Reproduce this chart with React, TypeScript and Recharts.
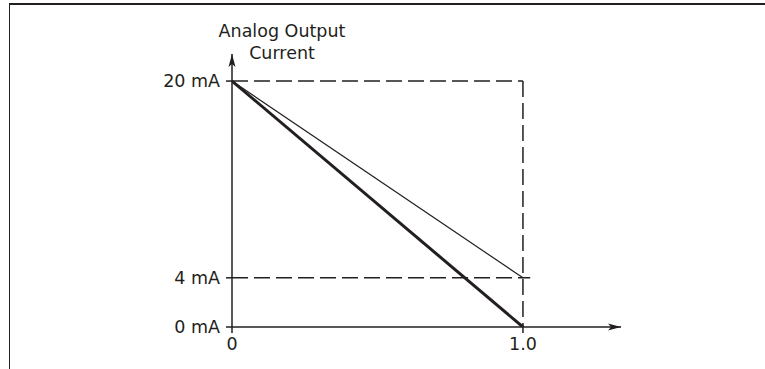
import { LineChart, Line, XAxis, YAxis, ReferenceLine, ReferenceDot } from 'recharts'

// signal range (x = reference 0..1.0, y = output current in mA)
const xTicks = [0, 1]
const xTickLabels = ['0', '1.0']
const yTicks = [0, 4, 20]
const yTickLabels = ['0 mA', '4 mA', '20 mA']

const thickLine = [
  { x: 0, y: 20 },
  { x: 1, y: 0 },
]
const thinLine = [
  { x: 0, y: 20 },
  { x: 1, y: 4 },
]

const xMax = 1.337
const yMax = 22.2

const ink = '#231f20'
const font = 'DejaVu Sans'

const ArrowUp = (props: any) => {
  const { cx, cy } = props
  return (
    <path
      d={`M${cx},${cy} L${cx + 3.5},${cy + 13} L${cx},${cy + 10} L${cx - 3.5},${cy + 13} Z`}
      fill={ink}
    />
  )
}

const ArrowRight = (props: any) => {
  const { cx, cy } = props
  return (
    <path
      d={`M${cx},${cy} L${cx - 13},${cy - 3.5} L${cx - 10},${cy} L${cx - 13},${cy + 3.5} Z`}
      fill={ink}
    />
  )
}

export default function App() {
  const tickStyle = { fontSize: 17.5, fill: ink, fontFamily: font }
  return (
    <div style={{ position: 'absolute', left: 0, top: 0, width: 765, height: 369, background: '#fff' }}>
      {/* frame */}
      <div
        style={{
          position: 'absolute',
          left: 9,
          top: 3,
          width: 756,
          height: 366,
          borderTop: `2px solid ${ink}`,
          borderLeft: `1.5px solid ${ink}`,
          boxSizing: 'border-box',
        }}
      />
      <div
        style={{
          position: 'absolute',
          left: 182,
          top: 21,
          width: 200,
          textAlign: 'center',
          fontFamily: font,
          fontSize: 17.5,
          lineHeight: '21.5px',
          color: ink,
        }}
      >
        Analog Output
        <br />
        Current
      </div>
      <LineChart
        width={765}
        height={369}
        margin={{ top: 54, right: 144, bottom: 12, left: 172 }}
        style={{ position: 'absolute', left: 0, top: 0 }}
      >
        <XAxis
          dataKey="x"
          type="number"
          domain={[0, xMax]}
          ticks={xTicks}
          tickFormatter={(v) => xTickLabels[xTicks.indexOf(v)]}
          height={30}
          tickSize={6}
          tickMargin={5}
          axisLine={{ stroke: ink, strokeWidth: 1.5 }}
          tickLine={{ stroke: ink, strokeWidth: 1.5 }}
          tick={tickStyle}
          allowDataOverflow
        />
        <YAxis
          dataKey="y"
          type="number"
          domain={[0, yMax]}
          ticks={yTicks}
          tickFormatter={(v) => yTickLabels[yTicks.indexOf(v)]}
          width={60}
          tickSize={6}
          tickMargin={6}
          axisLine={{ stroke: ink, strokeWidth: 1.5 }}
          tickLine={{ stroke: ink, strokeWidth: 1.5 }}
          tick={tickStyle}
          allowDataOverflow
        />
        <ReferenceLine
          segment={[{ x: 0, y: 20 }, { x: 1, y: 20 }]}
          stroke={ink}
          strokeWidth={1.5}
          strokeDasharray="16 6"
          ifOverflow="visible"
        />
        <ReferenceLine
          segment={[{ x: 1, y: 20 }, { x: 1, y: 0 }]}
          stroke={ink}
          strokeWidth={1.5}
          strokeDasharray="16 6"
          ifOverflow="visible"
        />
        <ReferenceLine
          segment={[{ x: 0, y: 4 }, { x: 1.025, y: 4 }]}
          stroke={ink}
          strokeWidth={1.5}
          strokeDasharray="16 6"
          ifOverflow="visible"
        />
        <Line
          data={thinLine}
          dataKey="y"
          stroke={ink}
          strokeWidth={1.2}
          dot={false}
          isAnimationActive={false}
        />
        <Line
          data={thickLine}
          dataKey="y"
          stroke={ink}
          strokeWidth={3}
          dot={false}
          isAnimationActive={false}
        />
        <ReferenceDot x={0} y={yMax} r={0} shape={ArrowUp} ifOverflow="visible" />
        <ReferenceDot x={xMax} y={0} r={0} shape={ArrowRight} ifOverflow="visible" />
      </LineChart>
    </div>
  )
}
